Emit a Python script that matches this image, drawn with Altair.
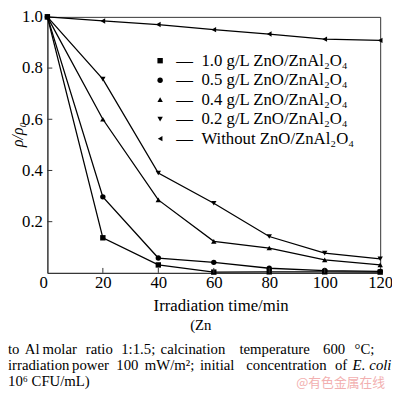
import altair as alt
import pandas as pd

# ---- data ----
times = [0, 20, 40, 60, 80, 100, 120]
series_names = [
    "1.0 g/L ZnO/ZnAl₂O₄",
    "0.5 g/L ZnO/ZnAl₂O₄",
    "0.4 g/L ZnO/ZnAl₂O₄",
    "0.2 g/L ZnO/ZnAl₂O₄",
    "Without ZnO/ZnAl₂O₄",
]
ratio_10 = [1.0, 0.137, 0.031, 0.003, 0.004, 0.004, 0.003]
ratio_05 = [1.0, 0.297, 0.058, 0.041, 0.018, 0.009, 0.006]
ratio_04 = [1.0, 0.600, 0.285, 0.123, 0.097, 0.051, 0.031]
ratio_02 = [1.0, 0.757, 0.390, 0.272, 0.142, 0.077, 0.055]
ratio_00 = [1.0, 0.984, 0.970, 0.950, 0.933, 0.913, 0.908]
shapes = ["square", "circle", "triangle-up", "triangle-down", "triangle-left"]
x_tick_values = [20, 40, 60, 80, 100]
y_tick_values = [0.2, 0.4, 0.6, 0.8]
y_label_values = [0.2, 0.4, 0.6, 0.8, 1.0]

caption_top = "(Zn"
caption_line1 = ["to", "Al", "molar", "ratio", "1:1.5;", "calcination", "temperature", "600", "°C;"]
caption_line2 = ["irradiation", "power", "100", "mW/m²;", "initial", "concentration", "of", "E.", "coli"]
caption_line3 = "10⁶ CFU/mL)"
watermark = "@有色金属在线"

rows = []
for name, vals in zip(series_names, [ratio_10, ratio_05, ratio_04, ratio_02, ratio_00]):
    for t, v in zip(times, vals):
        rows.append({"series": name, "t": t, "v": v})
df = pd.DataFrame(rows)

TOP = 6
OX, OY = 48, 8 + TOP  # page position of the plot origin
W, H = 338, 274 - OY
FONT = "Liberation Serif, Times New Roman, serif"
INK = "black"

x_scale = alt.Scale(domain=[0, 120], nice=False, zero=True)
y_scale = alt.Scale(domain=[0, 1.0], nice=False)

x_axis = alt.Axis(
    values=times, title="Irradiation time/min", ticks=False, grid=False,
    labelPadding=2, labelFont=FONT, titleFont=FONT,
    labelAlign={"condition": {"test": "datum.value === 0", "value": "right"}, "value": "center"},
    titleX=176, titleY=38, titleBaseline="alphabetic", titleAlign="center",
)
y_axis = alt.Axis(
    values=y_label_values, format=".1f", title="ρ/ρ₀", ticks=False, grid=False,
    labelPadding=5, titleFontStyle="italic", labelFont=FONT, titleFont=FONT,
    titleFontSize=16,
    titleX=-30, titleY=133 - OY, titleAngle=270, titleBaseline="middle", titleAlign="center",
)

base = alt.Chart(df)
lines = base.mark_line(color=INK, strokeWidth=1.3).encode(
    x=alt.X("t:Q", scale=x_scale, axis=x_axis),
    y=alt.Y("v:Q", scale=y_scale, axis=y_axis),
    detail="series:N",
)
points = base.mark_point(filled=True, color=INK, size=30, opacity=1).encode(
    x=alt.X("t:Q", scale=x_scale),
    y=alt.Y("v:Q", scale=y_scale),
    shape=alt.Shape(
        "series:N",
        scale=alt.Scale(domain=series_names, range=shapes),
        sort=series_names,
        legend=alt.Legend(
            title=None, orient="none", legendX=106, legendY=50 - OY,
            labelFont=FONT, labelFontSize=17, labelColor=INK, labelLimit=400,
            labelExpr="'\u2014\u2002' + datum.label", labelOffset=8,
            symbolFillColor=INK, symbolStrokeColor=INK, symbolSize=30,
            symbolStrokeWidth=0, rowPadding=1.8, padding=0,
        ),
    ),
)

xticks = alt.Chart(pd.DataFrame({"t": x_tick_values})).mark_rule(color="#333").encode(
    x=alt.X("t:Q", scale=x_scale), y=alt.value(H), y2=alt.value(H - 5)
)
yticks = alt.Chart(pd.DataFrame({"v": y_tick_values})).mark_rule(color="#333").encode(
    y=alt.Y("v:Q", scale=y_scale), x=alt.value(0), x2=alt.value(5)
)


def txt(s, x, y, align="left", style="normal", color=INK, size=15, font=FONT):
    return alt.Chart(pd.DataFrame({"s": [s]})).mark_text(
        align=align, baseline="alphabetic", font=font, fontSize=size,
        fontStyle=style, color=color,
    ).encode(x=alt.value(x), y=alt.value(y), text="s:N")


captions = [txt(caption_top, 193 - OX, 332 - OY)]
line1_x = [8, 25, 43, 87, 123, 163, 243, 328, 360]
for w, px in zip(caption_line1, line1_x):
    captions.append(txt(w, px - OX, 356 - OY))
line2_x = [8, 73, 118, 147, 203, 250, 340, 358, 375]
for w, px in zip(caption_line2, line2_x):
    ital = "italic" if w in ("E.", "coli") else "normal"
    captions.append(txt(w, px - OX, 373 - OY, style=ital))
captions.append(txt(caption_line3, 8 - OX, 389 - OY))
captions.append(txt(watermark, 391 - OX, 390 - OY, align="right", color="#f2b0b0",
                    size=13, font="Noto Sans CJK SC"))

chart = alt.layer(lines, points, xticks, yticks, *captions).properties(
    width=W, height=H,
    autosize=alt.AutoSizeParams(type="none"),
    padding={"left": 40, "top": TOP, "right": 12, "bottom": 119},
).configure(font=FONT).configure_view(stroke="#333", strokeWidth=1).configure_axis(
    labelFont=FONT, labelFontSize=17, labelColor=INK,
    titleFont=FONT, titleFontSize=17, titleFontWeight="normal", titleColor=INK,
    domainColor="#333", domainWidth=1,
).configure_legend(labelFont=FONT)

chart.save("out.html", embed_options={"renderer": "svg", "actions": False})
